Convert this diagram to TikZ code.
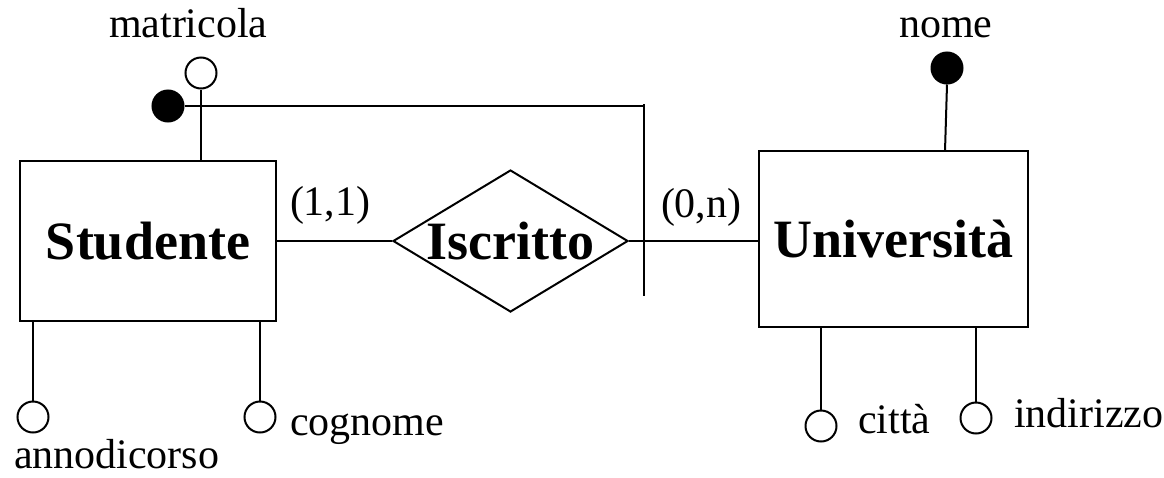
\documentclass[tikz,border=0pt]{standalone}
\usepackage{fontspec}
\setmainfont{Liberation Serif}
\usetikzlibrary{shapes.geometric}
\newcommand\attrtxt{\fontsize{42}{50}\selectfont}
\newcommand\enttxt{\fontsize{54}{60}\selectfont\bfseries}
\begin{document}
\begin{tikzpicture}[x=1pt,y=-1pt,line width=2pt,
  entity/.style={draw,rectangle,inner sep=0pt,font=\enttxt},
  relbox/.style={draw,diamond,shape aspect=1.65,inner sep=0pt,font=\enttxt},
  attr/.style={draw,circle,minimum size=31pt,inner sep=0pt},
  keyattr/.style={attr,fill=black},
  lbl/.style={inner sep=0pt,anchor=base west,font=\attrtxt}]
\useasboundingbox (0,0) rectangle (1164,477);
% entities and relationship
\node[entity,minimum width=256pt,minimum height=160pt] (stud) at (148,241) {Studente};
\node[entity,minimum width=269pt,minimum height=176pt] (univ) at (893.5,239) {Università};
\node[relbox,minimum width=235pt,minimum height=142pt] (iscr) at (510.5,241) {Iscritto};
% attribute circles
\node[attr] (cmat) at (201,73) {};
\node[keyattr] (ckey) at (168,106) {};
\node[keyattr] (cnome) at (947,68) {};
\node[attr] (canno) at (33,417) {};
\node[attr] (ccogn) at (260,417) {};
\node[attr] (ccitta) at (821,426) {};
\node[attr] (cind) at (976,418) {};
% helper coordinates
\coordinate (kcorner) at (644,106);
\coordinate (ktop) at (644,104);
\coordinate (kbot) at (644,296);
\coordinate (nomefoot) at (945,151);
% labels
\node[lbl] (lmat) at (108,37) {matricola};
\node[lbl] (lnome) at (898,37) {nome};
\node[lbl] (lc1) at (289,215) {(1,1)};
\node[lbl] (lc2) at (660,217) {(0,n)};
\node[lbl] (lanno) at (13,468) {annodicorso};
\node[lbl] (lcogn) at (289,435) {cognome};
\node[lbl] (lcitta) at (857,433) {città};
\node[lbl] (lind) at (1013,427) {indirizzo};
% connectors
\draw (stud.east) -- (iscr.west);
\draw (iscr.east) -- (iscr.east -| univ.west);
\draw (stud.north -| cmat) -- (cmat.south);
\draw (ckey.east) -- (kcorner);
\draw (ktop) -- (kbot);
\draw (cnome.south) -- (nomefoot);
\draw (stud.south -| canno) -- (canno.north);
\draw (stud.south -| ccogn) -- (ccogn.north);
\draw (univ.south -| ccitta) -- (ccitta.north);
\draw (univ.south -| cind) -- (cind.north);
\end{tikzpicture}
\end{document}
